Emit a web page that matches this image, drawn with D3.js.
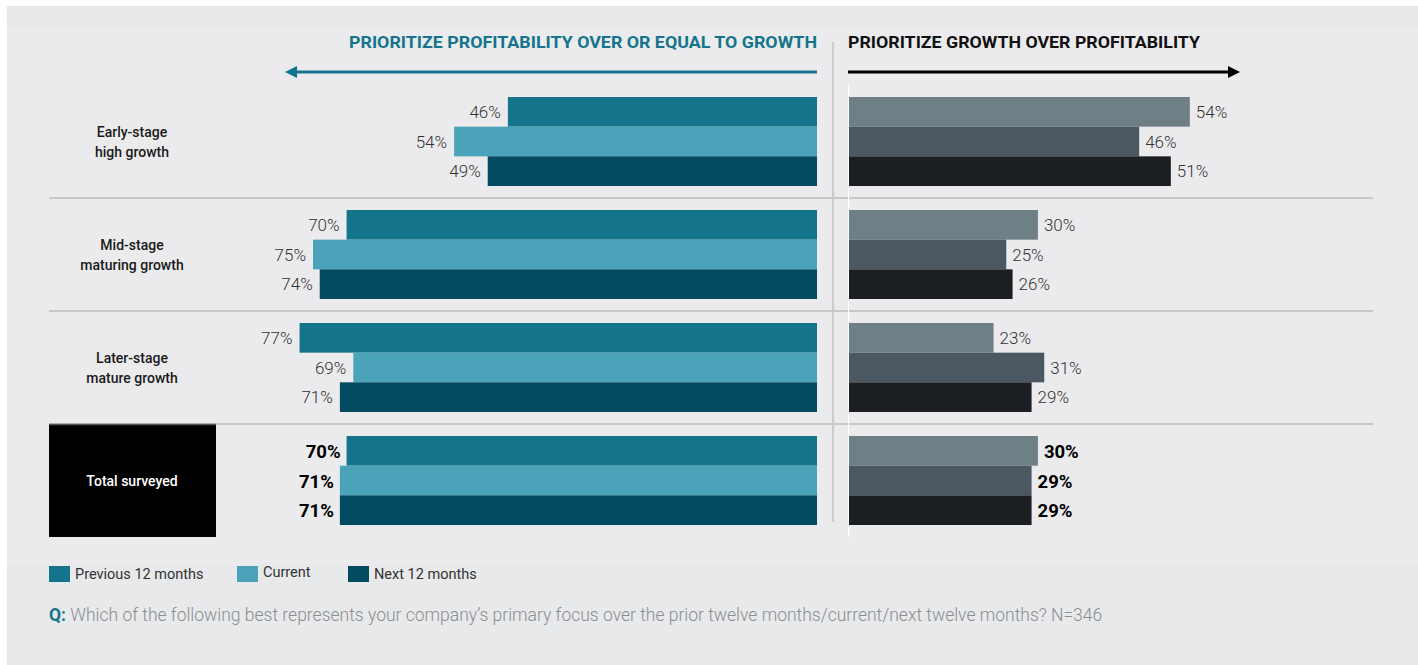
<!DOCTYPE html>
<html>
<head>
<meta charset="utf-8">
<script src="https://cdn.jsdelivr.net/npm/d3@7"></script>
<style>
  html, body { margin: 0; padding: 0; background: #ffffff; }
  svg { display: block; font-family: Roboto, "Open Sans", sans-serif; }
</style>
</head>
<body>
<svg id="chart" width="1418" height="665"></svg>
<script>
// Company stage segments, top to bottom
const categories = ["Early-stage\nhigh growth", "Mid-stage\nmaturing growth", "Later-stage\nmature growth", "Total surveyed"];
// Time frames shown for each segment
const series = ["Previous 12 months", "Current", "Next 12 months"];
// Share prioritizing profitability over or equal to growth (%)
const profitValues = [
  [46, 54, 49],
  [70, 75, 74],
  [77, 69, 71],
  [70, 71, 71]
];
// Share prioritizing growth over profitability (%)
const growthValues = [
  [54, 46, 51],
  [30, 25, 26],
  [23, 31, 29],
  [30, 29, 29]
];
const leftTitle = "PRIORITIZE PROFITABILITY OVER OR EQUAL TO GROWTH";
const rightTitle = "PRIORITIZE GROWTH OVER PROFITABILITY";
const questionLead = "Q:";
const questionText = " Which of the following best represents your company\u2019s primary focus over the prior twelve months/current/next twelve months? N=346";

const leftColors = ["#13748c", "#4aa3b8", "#014a60"];
const rightColors = ["#6e7f86", "#4b5861", "#1b1e22"];

const svg = d3.select("#chart");

// Panel background
svg.append("rect").attr("x", 7).attr("y", 6).attr("width", 1411).attr("height", 659).attr("fill", "#ebebed");
svg.append("rect").attr("x", 7).attr("y", 6).attr("width", 1411).attr("height", 22).attr("fill", "#e8e8ea");
svg.append("rect").attr("x", 7).attr("y", 565).attr("width", 1411).attr("height", 100).attr("fill", "#e8e9eb");

const centerL = 817, centerR = 848;
const xLeft = d3.scaleLinear().domain([0, 100]).range([centerL, centerL - 672]);
const xRight = d3.scaleLinear().domain([0, 100]).range([centerR, centerR + 633]);

const yGroup = d3.scaleBand().domain(categories).range([85, 537]).padding(0);
const yInner = d3.scaleBand().domain(series).range([12, 101]).padding(0);

// Headers
svg.append("text")
  .attr("x", centerL).attr("y", 48)
  .attr("text-anchor", "end")
  .attr("fill", "#13748c")
  .attr("font-size", 17).attr("font-weight", 700)
  .attr("textLength", 468).attr("lengthAdjust", "spacingAndGlyphs")
  .text(leftTitle);
svg.append("text")
  .attr("x", centerR).attr("y", 48)
  .attr("fill", "#111111")
  .attr("font-size", 17).attr("font-weight", 700)
  .attr("textLength", 352).attr("lengthAdjust", "spacingAndGlyphs")
  .text(rightTitle);

// Direction arrows
svg.append("line").attr("x1", centerL).attr("x2", 294).attr("y1", 72).attr("y2", 72)
  .attr("stroke", "#13748c").attr("stroke-width", 3);
svg.append("path").attr("d", "M285,72 L297,66 L297,78 Z").attr("fill", "#13748c");
svg.append("line").attr("x1", centerR).attr("x2", 1230).attr("y1", 72).attr("y2", 72)
  .attr("stroke", "#000000").attr("stroke-width", 3);
svg.append("path").attr("d", "M1240,72 L1228,66 L1228,78 Z").attr("fill", "#000000");

// Center divider
svg.append("line").attr("x1", 833).attr("x2", 833).attr("y1", 42).attr("y2", 522)
  .attr("stroke", "#bfc0c2").attr("stroke-width", 1.5);

// Group separators
categories.slice(1).forEach(c => {
  svg.append("line")
    .attr("x1", 49).attr("x2", 1373)
    .attr("y1", yGroup(c)).attr("y2", yGroup(c))
    .attr("stroke", "#c8c8ca").attr("stroke-width", 2);
});

// Total box
const totalCat = categories[categories.length - 1];
svg.append("rect")
  .attr("x", 49).attr("y", yGroup(totalCat))
  .attr("width", 167).attr("height", yGroup.bandwidth())
  .attr("fill", "#000000");
svg.append("line").attr("x1", 49).attr("x2", 216)
  .attr("y1", yGroup(totalCat) + 0.5).attr("y2", yGroup(totalCat) + 0.5)
  .attr("stroke", "#555555").attr("stroke-width", 1.5);

// Category labels
categories.forEach((c, i) => {
  const isTotal = i === categories.length - 1;
  const lines = c.split("\n");
  const cy = yGroup(c) + yGroup.bandwidth() / 2;
  const t = svg.append("text")
    .attr("text-anchor", "middle")
    .attr("font-size", 14).attr("font-weight", 500)
    .attr("fill", isTotal ? "#ffffff" : "#1a1a1a");
  lines.forEach((ln, k) => {
    t.append("tspan")
      .attr("x", 132)
      .attr("y", cy + 5 + (k - (lines.length - 1) / 2) * 20)
      .text(ln);
  });
});

// Bars and value labels
categories.forEach((c, gi) => {
  const isTotal = gi === categories.length - 1;
  const g = svg.append("g").attr("transform", `translate(0,${yGroup(c)})`);
  series.forEach((s, si) => {
    const y0 = yInner(s), h = yInner.bandwidth();
    const pv = profitValues[gi][si], gv = growthValues[gi][si];
    g.append("rect")
      .attr("x", xLeft(pv)).attr("y", y0)
      .attr("width", xLeft(0) - xLeft(pv)).attr("height", h)
      .attr("fill", leftColors[si]);
    g.append("rect")
      .attr("x", xRight(0)).attr("y", y0)
      .attr("width", xRight(gv) - xRight(0)).attr("height", h)
      .attr("fill", rightColors[si]);
    g.append("text")
      .attr("x", xLeft(pv) - (isTotal ? 6 : 7)).attr("y", y0 + h / 2 + (isTotal ? 7 : 6))
      .attr("text-anchor", "end")
      .attr("font-size", isTotal ? 18.5 : 17)
      .attr("font-weight", isTotal ? 700 : 300)
      .attr("fill", isTotal ? "#000000" : "#333333")
      .text(pv + "%");
    g.append("text")
      .attr("x", xRight(gv) + 6).attr("y", y0 + h / 2 + (isTotal ? 7 : 6))
      .attr("font-size", isTotal ? 18.5 : 17)
      .attr("font-weight", isTotal ? 700 : 300)
      .attr("fill", isTotal ? "#000000" : "#333333")
      .text(gv + "%");
  });
});

// White baseline on the growth side
svg.append("line").attr("x1", 848.5).attr("x2", 848.5).attr("y1", 85).attr("y2", 537)
  .attr("stroke", "#ffffff").attr("stroke-width", 1);

// Legend
const legendX = [49, 237, 348];
series.forEach((s, i) => {
  svg.append("rect").attr("x", legendX[i]).attr("y", 566).attr("width", 21).attr("height", 16)
    .attr("fill", leftColors[i]);
  svg.append("text").attr("x", legendX[i] + 26).attr("y", i === 1 ? 577 : 579)
    .attr("font-size", 14.5).attr("font-weight", 400).attr("fill", "#333333")
    .text(s);
});

// Survey question
const q = svg.append("text").attr("x", 49).attr("y", 621).attr("font-size", 17.5);
q.append("tspan").attr("font-weight", 700).attr("fill", "#13748c").text(questionLead);
q.append("tspan").attr("font-weight", 300).attr("fill", "#8a8d90").text(questionText);
</script>
</body>
</html>
